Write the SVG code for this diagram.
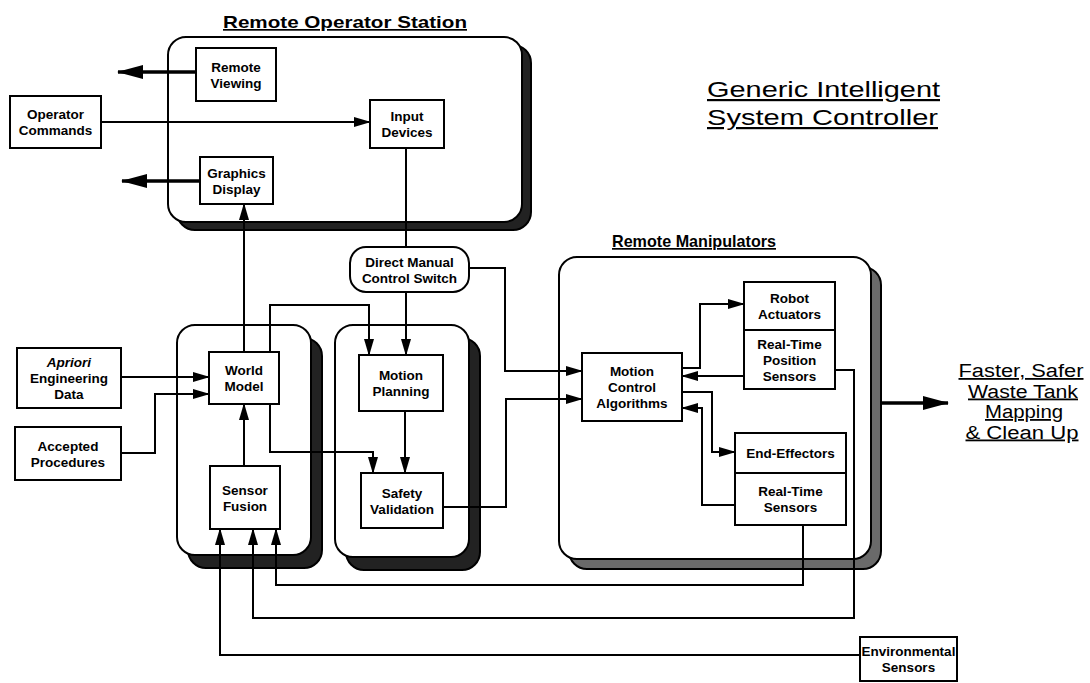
<svg xmlns="http://www.w3.org/2000/svg" width="1090" height="683" viewBox="0 0 1090 683">
<style>
.bg{fill:#fff}
.box{fill:#fff;stroke:#000;stroke-width:2}
.grp{fill:#fff;stroke:#000;stroke-width:2}
.shd{fill:#222;stroke:#000;stroke-width:2}
.shd2{fill:#6a6a6a;stroke:#000;stroke-width:2}
.lbl{font-family:"Liberation Sans",Arial,sans-serif;font-weight:bold;font-size:13.5px;text-anchor:middle;fill:#000}
.ttl{font-family:"Liberation Sans",Arial,sans-serif;font-weight:bold;font-size:17px;text-decoration:underline;fill:#000}
.big{font-family:"Liberation Sans",Arial,sans-serif;font-size:22px;text-decoration:underline;fill:#000}
.out{font-family:"Liberation Sans",Arial,sans-serif;font-size:18px;text-decoration:underline;text-anchor:middle;fill:#000}
.conn{fill:none;stroke:#000;stroke-width:2}
.thick{fill:none;stroke:#000;stroke-width:3.5}
</style>
<defs>
<marker id="a" markerUnits="userSpaceOnUse" markerWidth="17" markerHeight="10" refX="16" refY="5" orient="auto"><path d="M0,0 L17,5 L0,10 z" fill="#000"/></marker>
<marker id="b" markerUnits="userSpaceOnUse" markerWidth="26" markerHeight="14" refX="25" refY="7" orient="auto"><path d="M0,0 L26,7 L0,14 z" fill="#000"/></marker>
</defs>
<rect class="bg" x="0" y="0" width="1090" height="683"/>

<!-- containers -->
<g id="remote_operator_station">
<rect class="shd" x="177" y="45" width="354" height="185" rx="18"/>
<rect class="grp" x="168" y="37" width="354" height="185" rx="18"/>
<text class="ttl" x="223" y="28" textLength="244" lengthAdjust="spacingAndGlyphs">Remote Operator Station</text>
</g>
<g id="world_group">
<rect class="shd" x="188" y="338" width="134" height="230" rx="18"/>
<rect class="grp" x="177" y="325" width="134" height="230" rx="18"/>
</g>
<g id="planning_group">
<rect class="shd" x="346" y="338" width="134" height="232" rx="18"/>
<rect class="grp" x="335" y="325" width="134" height="232" rx="18"/>
</g>
<g id="remote_manipulators">
<rect class="shd2" x="569" y="267" width="312" height="302" rx="18"/>
<rect class="grp" x="559" y="257" width="312" height="302" rx="18"/>
<text class="ttl" x="612" y="247" textLength="164" lengthAdjust="spacingAndGlyphs">Remote Manipulators</text>
</g>

<!-- connectors -->
<g id="connectors">
<path class="thick" d="M196,72 H118" marker-end="url(#b)"/>
<path class="thick" d="M200,181 H122" marker-end="url(#b)"/>
<path class="conn" d="M101,122 H370" marker-end="url(#a)"/>
<path class="conn" d="M406,148 V247"/>
<path class="conn" d="M406,292 V355" marker-end="url(#a)"/>
<path class="conn" d="M469,268 H505 V371 H582" marker-end="url(#a)"/>
<path class="conn" d="M244,352 V204" marker-end="url(#a)"/>
<path class="conn" d="M270,352 V305 H369 V355" marker-end="url(#a)"/>
<path class="conn" d="M121,377 H209" marker-end="url(#a)"/>
<path class="conn" d="M121,453 H155 V394 H209" marker-end="url(#a)"/>
<path class="conn" d="M244,466 V404" marker-end="url(#a)"/>
<path class="conn" d="M270,404 V452 H373 V473" marker-end="url(#a)"/>
<path class="conn" d="M405,411 V473" marker-end="url(#a)"/>
<path class="conn" d="M443,507 H506 V399 H582" marker-end="url(#a)"/>
<path class="conn" d="M682,368 H700 V304 H744" marker-end="url(#a)"/>
<path class="conn" d="M744,376 H682" marker-end="url(#a)"/>
<path class="conn" d="M682,392 H712 V452 H735" marker-end="url(#a)"/>
<path class="conn" d="M735,505 H702 V408 H682" marker-end="url(#a)"/>
<path class="conn" d="M803,525 V585 H276 V529" marker-end="url(#a)"/>
<path class="conn" d="M835,370 H854 V618 H253 V529" marker-end="url(#a)"/>
<path class="conn" d="M860,655 H220 V529" marker-end="url(#a)"/>
<path class="thick" d="M880,403 H948" marker-end="url(#b)"/>
</g>

<!-- nodes -->
<g id="operator_commands"><rect class="box" x="10" y="96" width="91" height="52"/>
<text class="lbl" x="55.5" y="119">Operator</text><text class="lbl" x="55.5" y="135">Commands</text></g>
<g id="remote_viewing"><rect class="box" x="196" y="48" width="80" height="53"/>
<text class="lbl" x="236" y="71.5">Remote</text><text class="lbl" x="236" y="87.5">Viewing</text></g>
<g id="input_devices"><rect class="box" x="370" y="100" width="74" height="48"/>
<text class="lbl" x="407" y="121">Input</text><text class="lbl" x="407" y="137">Devices</text></g>
<g id="graphics_display"><rect class="box" x="200" y="157" width="73" height="47"/>
<text class="lbl" x="236.5" y="177.5">Graphics</text><text class="lbl" x="236.5" y="193.5">Display</text></g>
<g id="direct_manual_control_switch"><rect class="box" x="350" y="247" width="119" height="45" rx="16"/>
<text class="lbl" x="409.5" y="266.5">Direct Manual</text><text class="lbl" x="409.5" y="282.5">Control Switch</text></g>
<g id="world_model"><rect class="box" x="209" y="352" width="70" height="52"/>
<text class="lbl" x="244" y="375">World</text><text class="lbl" x="244" y="391">Model</text></g>
<g id="motion_planning"><rect class="box" x="359" y="355" width="84" height="56"/>
<text class="lbl" x="401" y="380">Motion</text><text class="lbl" x="401" y="396">Planning</text></g>
<g id="sensor_fusion"><rect class="box" x="210" y="466" width="70" height="63"/>
<text class="lbl" x="245" y="494.5">Sensor</text><text class="lbl" x="245" y="510.5">Fusion</text></g>
<g id="safety_validation"><rect class="box" x="361" y="473" width="82" height="55"/>
<text class="lbl" x="402" y="497.5">Safety</text><text class="lbl" x="402" y="513.5">Validation</text></g>
<g id="apriori_engineering_data"><rect class="box" x="17" y="348" width="104" height="60"/>
<text class="lbl" x="69" y="367" font-style="italic">Apriori</text><text class="lbl" x="69" y="383">Engineering</text><text class="lbl" x="69" y="399">Data</text></g>
<g id="accepted_procedures"><rect class="box" x="15" y="427" width="106" height="53"/>
<text class="lbl" x="68" y="450.5">Accepted</text><text class="lbl" x="68" y="466.5">Procedures</text></g>
<g id="motion_control_algorithms"><rect class="box" x="582" y="353" width="100" height="68"/>
<text class="lbl" x="632" y="376">Motion</text><text class="lbl" x="632" y="392">Control</text><text class="lbl" x="632" y="408">Algorithms</text></g>
<g id="robot_actuators"><rect class="box" x="744" y="282" width="91" height="48"/>
<text class="lbl" x="789.5" y="303">Robot</text><text class="lbl" x="789.5" y="319">Actuators</text></g>
<g id="real_time_position_sensors"><rect class="box" x="744" y="330" width="91" height="59"/>
<text class="lbl" x="789.5" y="348.5">Real-Time</text><text class="lbl" x="789.5" y="364.5">Position</text><text class="lbl" x="789.5" y="380.5">Sensors</text></g>
<g id="end_effectors"><rect class="box" x="735" y="433" width="111" height="40"/>
<text class="lbl" x="790.5" y="458">End-Effectors</text></g>
<g id="real_time_sensors"><rect class="box" x="735" y="473" width="111" height="52"/>
<text class="lbl" x="790.5" y="496">Real-Time</text><text class="lbl" x="790.5" y="512">Sensors</text></g>
<g id="environmental_sensors"><rect class="box" x="860" y="637" width="97" height="44"/>
<text class="lbl" x="908.5" y="656" font-size="13px">Environmental</text><text class="lbl" x="908.5" y="672" font-size="13px">Sensors</text></g>

<!-- titles -->
<g id="system_title">
<text class="big" x="707" y="97" textLength="233" lengthAdjust="spacingAndGlyphs">Generic Intelligent</text>
<text class="big" x="707" y="125" textLength="231" lengthAdjust="spacingAndGlyphs">System Controller</text>
</g>
<g id="output_label">
<text class="out" x="1021" y="377" textLength="125" lengthAdjust="spacingAndGlyphs">Faster, Safer</text>
<text class="out" x="1023" y="397.5" textLength="110" lengthAdjust="spacingAndGlyphs">Waste Tank</text>
<text class="out" x="1024" y="418" textLength="78" lengthAdjust="spacingAndGlyphs">Mapping</text>
<text class="out" x="1022" y="438.5" textLength="113" lengthAdjust="spacingAndGlyphs">&amp; Clean Up</text>
</g>
</svg>
